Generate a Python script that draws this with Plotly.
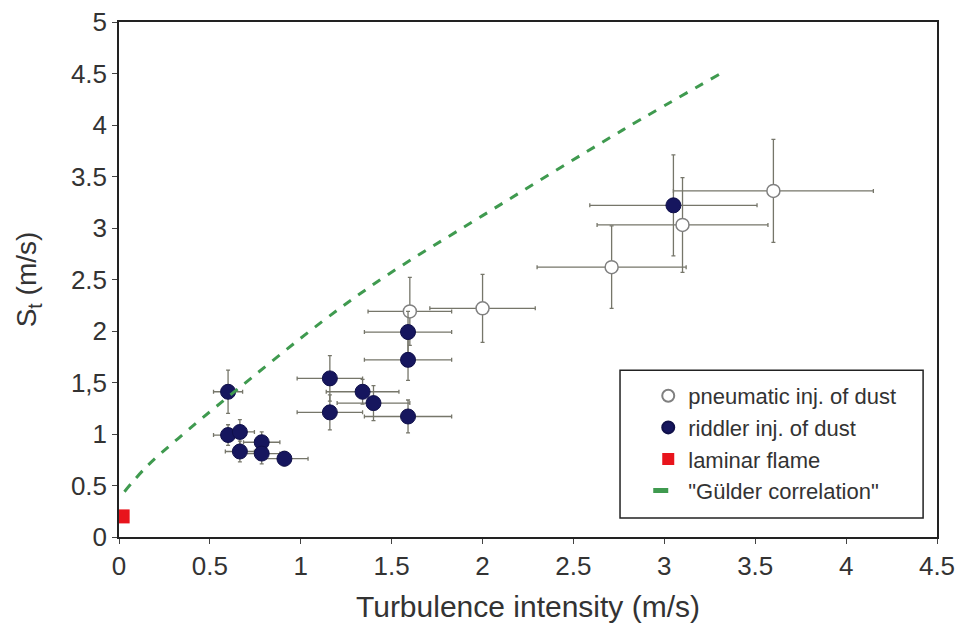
import plotly.graph_objects as go

# Pneumatic injection (open circles)
pn_x = [1.60, 2.00, 2.71, 3.10, 3.60]
pn_y = [2.19, 2.22, 2.62, 3.03, 3.36]
pn_xerr = [0.23, 0.29, 0.41, 0.47, 0.55]
pn_yerr = [0.33, 0.33, 0.40, 0.46, 0.50]

# Riddler injection (filled circles)
rd_x = [0.60, 0.60, 0.665, 0.665, 0.785, 0.785, 0.91, 1.16, 1.16, 1.34, 1.40, 1.59, 1.59, 1.59, 3.05]
rd_y = [1.41, 0.99, 1.02, 0.83, 0.92, 0.81, 0.76, 1.54, 1.21, 1.41, 1.30, 1.17, 1.72, 1.99, 3.22]
rd_xerr = [0.08, 0.08, 0.08, 0.08, 0.10, 0.10, 0.13, 0.18, 0.18, 0.20, 0.20, 0.24, 0.24, 0.24, 0.46]
rd_yerr = [0.21, 0.10, 0.12, 0.10, 0.10, 0.10, 0.07, 0.22, 0.17, 0.12, 0.17, 0.16, 0.20, 0.20, 0.49]

# Laminar flame
lam_x = [0.02]
lam_y = [0.20]

# Gülder correlation
gu_x = [0.03, 0.15, 0.354, 0.6, 1.124, 1.465, 2.0, 2.77, 3.31]
gu_y = [0.44, 0.68, 1.00, 1.36, 2.10, 2.53, 3.12, 3.95, 4.50]

x_ticks = [0, 0.5, 1, 1.5, 2, 2.5, 3, 3.5, 4, 4.5]
x_ticktext = ["0", "0.5", "1", "1.5", "2", "2.5", "3", "3.5", "4", "4.5"]
y_ticks = [0, 0.5, 1, 1.5, 2, 2.5, 3, 3.5, 4, 4.5, 5]
y_ticktext = ["0", "0.5", "1", "1,5", "2", "2.5", "3", "3.5", "4", "4.5", "5"]

err_color = "#76766a"

fig = go.Figure()
fig.add_trace(go.Scatter(
    x=pn_x, y=pn_y, mode="markers", name="pneumatic inj. of dust", legendgroup="a",
    marker=dict(symbol="circle", size=13, color="white", line=dict(color="#808080", width=1.5)),
    error_x=dict(type="data", array=pn_xerr, color=err_color, thickness=1.3, width=2),
    error_y=dict(type="data", array=pn_yerr, color=err_color, thickness=1.3, width=2),
))
fig.add_trace(go.Scatter(
    x=rd_x, y=rd_y, mode="markers", name="riddler inj. of dust", legendgroup="b",
    marker=dict(symbol="circle", size=15, color="#16165e", line=dict(color="#10104a", width=1)),
    error_x=dict(type="data", array=rd_xerr, color=err_color, thickness=1.3, width=2),
    error_y=dict(type="data", array=rd_yerr, color=err_color, thickness=1.3, width=2),
))
fig.add_trace(go.Scatter(
    x=lam_x, y=lam_y, mode="markers", name="laminar flame", legendgroup="c",
    marker=dict(symbol="square", size=14, color="#e8141c"),
))
fig.add_trace(go.Scatter(
    x=gu_x, y=gu_y, mode="lines", name="\"Gülder correlation\"", legendgroup="d",
    line=dict(color="#3f9a4f", width=3, dash="dash", shape="spline"),
))

axis_common = dict(
    showgrid=False, zeroline=False, showline=True, linecolor="#222222", linewidth=1.5,
    mirror=True, ticks="outside", ticklen=5, tickcolor="#444444", automargin=False,
    tickfont=dict(family="Liberation Sans", size=26, color="#333333"),
)
fig.update_layout(
    width=964, height=629,
    margin=dict(l=119, r=27, t=22, b=92),
    paper_bgcolor="white", plot_bgcolor="white",
    font=dict(family="Liberation Sans", color="#333333"),
    xaxis=dict(range=[0, 4.5], tickvals=x_ticks, ticktext=x_ticktext,
               title=dict(text="Turbulence intensity (m/s)", font=dict(size=30), standoff=16),
               **axis_common),
    yaxis=dict(range=[0, 5], tickvals=y_ticks, ticktext=y_ticktext,
               title=dict(text="S<sub>t</sub> (m/s)", font=dict(size=28), standoff=26),
               **axis_common),
    legend=dict(x=0.647, y=0.3146, xanchor="left", yanchor="top",
                bgcolor="rgba(0,0,0,0)", borderwidth=0,
                font=dict(family="Liberation Sans", size=22, color="#333333"),
                tracegroupgap=6, traceorder="normal", itemsizing="constant"),
    shapes=[dict(type="rect", xref="paper", yref="paper",
                 x0=0.6125, x1=0.983, y0=0.0369, y1=0.324,
                 line=dict(color="#222222", width=1.5), fillcolor="white", layer="below")],
    showlegend=True,
)
fig.write_html("out.html")
